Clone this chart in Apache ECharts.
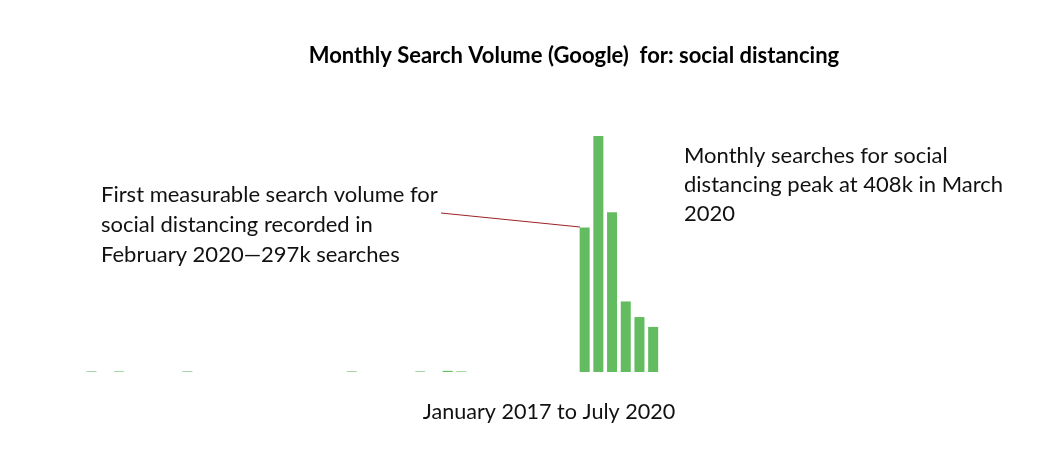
<!DOCTYPE html>
<html>
<head>
<meta charset="utf-8">
<script src="https://cdn.jsdelivr.net/npm/echarts@6/dist/echarts.min.js"></script>
<style>html,body{margin:0;padding:0;background:#fff;}#c{width:1045px;height:460px;}</style>
</head>
<body>
<div id="c"></div>
<script>
// Months Jan 2017 .. Jul 2020
var monthNames = ['Jan','Feb','Mar','Apr','May','Jun','Jul','Aug','Sep','Oct','Nov','Dec'];
var years = [2017, 2018, 2019, 2020];
var categories = [];
years.forEach(function (y) {
  monthNames.forEach(function (m, i) {
    if (y < 2020 || i < 7) categories.push(m + ' ' + y);
  });
});
// Monthly searches (thousands)
var searches = [
  0, 1, 0, 1, 0, 0, 0, 0, 1, 0, 0, 0,      // 2017
  0, 0, 0, 0, 0, 0, 0, 0, 1, 0, 0, 0,      // 2018
  0, 1, 0, 2, 1, 0, 0, 0, 0, 0, 0, 0,      // 2019
  0, 250, 408, 276, 122, 95, 78            // 2020
];
var titleText = 'Monthly Search Volume (Google)  for: social distancing';
var leftNote = ['First measurable search volume for', 'social distancing recorded in', 'February 2020\u2014297k searches'];
var rightNote = ['Monthly searches for social', 'distancing peak at 408k in March', '2020'];
var axisCaption = 'January 2017 to July 2020';

var chart = echarts.init(document.getElementById('c'), null, {renderer: 'canvas'});
var FONT = 'Lato, "Open Sans", sans-serif';
chart.setOption({
  backgroundColor: '#ffffff',
  animation: false,
  grid: {left: 71, width: 589, top: 136, bottom: 88},
  xAxis: {
    type: 'category', data: categories,
    axisLine: {show: false}, axisTick: {show: false}, axisLabel: {show: false}, splitLine: {show: false}
  },
  yAxis: {
    type: 'value', min: 0, max: 408,
    axisLine: {show: false}, axisTick: {show: false}, axisLabel: {show: false}, splitLine: {show: false}
  },
  series: [{
    type: 'bar', data: searches, barWidth: 10,
    itemStyle: {color: '#63bc5f'}
  }],
  graphic: [
    {type: 'text', x: 574, y: 56, style: {text: titleText, font: 'bold 22px ' + FONT, fill: '#000', align: 'center', verticalAlign: 'middle'}},
    {type: 'text', left: 101, top: 180, style: {text: leftNote.join('\n'), font: '22px ' + FONT, fill: '#111', lineHeight: 30}},
    {type: 'text', left: 684, top: 141, style: {text: rightNote.join('\n'), font: '22px ' + FONT, fill: '#111', lineHeight: 29}},
    {type: 'text', x: 549, y: 412, style: {text: axisCaption, font: '21.6px ' + FONT, fill: '#111', align: 'center', verticalAlign: 'middle'}},
    {type: 'line', shape: {x1: 441, y1: 213, x2: 580, y2: 227}, style: {stroke: '#9b2226', lineWidth: 1}}
  ]
});
</script>
</body>
</html>
